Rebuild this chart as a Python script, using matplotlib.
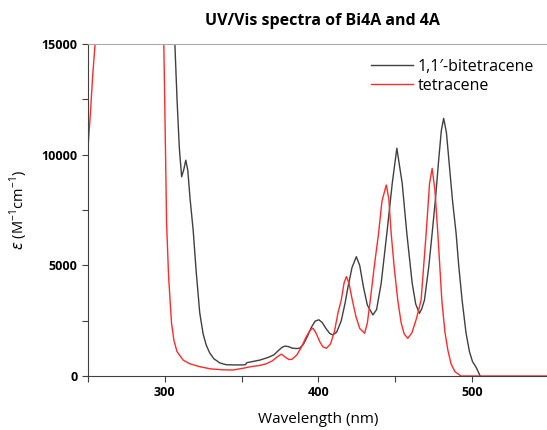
"""UV/Vis spectra of 1,1'-bitetracene (Bi4A) and tetracene (4A)."""

import matplotlib.pyplot as plt
from matplotlib.ticker import MultipleLocator

plt.rcParams["font.family"] = ["Open Sans", "DejaVu Sans"]

# 1,1'-bitetracene (Bi4A)
bi4a_wl = [300, 304, 306.6, 308, 309.5, 311, 312.3, 313.7, 315, 316.5, 318.5, 320.5,
           322.8, 325, 327, 329.3, 332, 335.9, 340, 345, 350, 352.5, 353.5, 357, 362,
           367, 371, 374, 376.5, 378.3, 380.5, 383, 386, 388, 390.5, 393, 395.5, 398,
           400.4, 402.5, 405, 407.5, 409.5, 412, 415, 417.5, 419.3, 422, 424.8, 427,
           429.5, 432, 435.6, 438, 441, 444.7, 448.2, 451.2, 454.7, 457.7, 461.2, 463.5,
           465.9, 467.5, 469.2, 472, 474.2, 476.3, 478.5, 480.2, 481.7, 483.5, 485.5,
           487.5, 489.8, 491.5, 493.7, 496.3, 498.5, 500.5, 502.8, 504.5, 505.5]
bi4a_eps = [30000, 20000, 15000, 12500, 10300, 9000, 9300, 9750, 9300, 8000, 6600, 4700,
            2850, 1900, 1400, 1040, 780, 590, 510, 500, 500, 510, 600, 650, 720,
            830, 950, 1150, 1300, 1350, 1330, 1260, 1240, 1260, 1450, 1800, 2200, 2480,
            2540, 2420, 2150, 1920, 1860, 1980, 2500, 3300, 4000, 4900, 5390, 5000,
            4000, 3200, 2760, 3000, 4190, 6450, 8700, 10290, 8700, 6450, 4190, 3250,
            2830, 3050, 3430, 4940, 6450, 7950, 9800, 11100, 11640, 11000, 9450,
            7900, 6450, 5000, 3430, 1930, 1100, 650, 400, 150, 0]

# tetracene (4A)
t4a_wl = [250, 251.5, 253, 254.6, 256, 258, 297, 299.4, 300.3, 301.2, 302.5, 304.4, 306,
          308, 312, 316, 322.8, 330, 338, 344.5, 351, 356, 362, 366, 370, 373, 376,
          378.5, 381, 383, 386, 389, 392, 394.5, 396.5, 398.5, 401, 403, 405.3, 408,
          410.5, 413, 415, 416.8, 418.3, 420, 422.2, 424.5, 427, 430.2, 432, 433.9,
          436.5, 439.3, 441.5, 444.3, 446, 447.5, 449.5, 451.8, 454, 456, 458.3, 461,
          464, 467, 470.3, 472.5, 474.2, 476, 477.9, 480.5, 482.5, 484.4, 486.5, 489,
          493, 550]
t4a_eps = [10300, 11800, 13500, 15000, 17000, 20000, 20000, 15000, 11000, 6900, 4500, 2400,
           1600, 1100, 720, 560, 420, 320, 280, 270, 350, 420, 480, 550, 680, 850, 990,
           850, 740, 760, 950, 1300, 1750, 2050, 2160, 1950, 1550, 1320, 1250, 1450,
           2000, 2900, 3430, 4200, 4490, 4200, 3430, 2700, 2150, 1930, 2400, 3430,
           4950, 6450, 7900, 8630, 8000, 6450, 4900, 3430, 2400, 1900, 1700, 1950,
           2600, 3430, 6450, 8700, 9380, 8400, 6450, 3430, 2000, 1180, 550, 200,
           0, 0]

W, H = 547, 430
fig = plt.figure(figsize=(W / 100, H / 100), dpi=100)
ax = fig.add_axes([88 / W, 54 / H, (548.5 - 88) / W, 332 / H])

ax.plot(bi4a_wl, bi4a_eps, color="#404040", lw=1.0, label="1,1\u2032-bitetracene")
ax.plot(t4a_wl, t4a_eps, color="#ff2a2a", lw=1.0, label="tetracene")

ax.set_xlim(250, 550)
ax.set_ylim(0, 15000)
ax.xaxis.set_major_locator(MultipleLocator(100))
ax.xaxis.set_minor_locator(MultipleLocator(50))
ax.yaxis.set_major_locator(MultipleLocator(5000))
ax.yaxis.set_minor_locator(MultipleLocator(2500))
ax.tick_params(which="both", direction="out", length=4, width=0.8, color="#404040")
ax.tick_params(labelsize=9)
ax.set_xticks([300, 400, 500])
for lab in ax.get_xticklabels() + ax.get_yticklabels():
    lab.set_fontweight("bold")

ax.spines["right"].set_visible(False)
ax.spines["top"].set_color("#aaaaaa")
ax.spines["left"].set_color("#404040")
ax.spines["bottom"].set_color("#404040")

ax.set_xlabel("Wavelength (nm)", fontsize=11, labelpad=9)
ax.set_ylabel(r"$\varepsilon$ (M$^{\mathregular{-1}}$cm$^{\mathregular{-1}}$)",
              fontsize=10.5, labelpad=8)
fig.text(322 / W, 1 - 21 / H, "UV/Vis spectra of Bi4A and 4A", ha="center", va="center",
         fontsize=11.5, fontweight="bold")

ax.legend(loc="upper left", bbox_to_anchor=((365 - 88) / (548.5 - 88), 0.975), frameon=False,
          fontsize=11.5, handlelength=2.6, handletextpad=0.3, labelspacing=0.2,
          borderaxespad=0)

fig.savefig("out.png", dpi=100)
